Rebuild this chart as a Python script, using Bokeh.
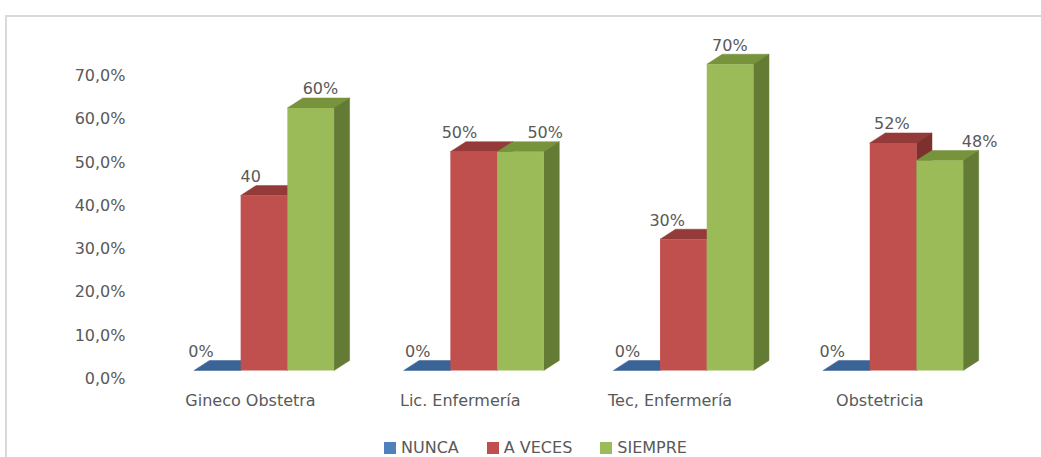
from bokeh.plotting import figure
from bokeh.models import (Range1d, LinearAxis, FixedTicker, ColumnDataSource,
                          Legend, LegendItem)
from bokeh.core.properties import value
from bokeh.embed import file_html
from bokeh.resources import INLINE

# ---------------- data ----------------
categories = ["Gineco Obstetra", "Lic. Enfermería", "Tec, Enfermería", "Obstetricia"]
series_names = ["NUNCA", "A VECES", "SIEMPRE"]
nunca = [0, 0, 0, 0]
a_veces = [40, 50, 30, 52]
siempre = [60, 50, 70, 48]
labels_nunca = ["0%", "0%", "0%", "0%"]
labels_a_veces = ["40", "50%", "30%", "52%"]
labels_siempre = ["60%", "50%", "70%", "48%"]
y_ticks = [0, 10, 20, 30, 40, 50, 60, 70]
y_tick_labels = ["0,0%", "10,0%", "20,0%", "30,0%", "40,0%", "50,0%", "60,0%", "70,0%"]

# ---------------- style ----------------
FONT = "DejaVu Sans"
TXT = "#595959"
front_colors = ["#4F81BD", "#C0504D", "#9BBB59"]
top_colors = ["#3A6496", "#943A38", "#77933C"]
side_colors = ["#34598A", "#7E302E", "#647B35"]
# manual label nudges (px) as placed in the original
nudge_x = [[-24, -17, -17, -22], [-21, -22, -24, -9], [2, 17, -8, 32]]

W = 0.2227      # bar width (category units)
DX = 0.074      # 3D depth, x (category units)
DY = 2.29       # 3D depth, y (percentage points)

# grey chart-area frame line (top and left edges), drawn behind a transparent canvas
LINE = "linear-gradient(#d9d9d9, #d9d9d9)"
frame_css = {"background": f"{LINE} no-repeat 5px 15px / 2px 100%, "
                           f"{LINE} no-repeat 5px 15px / 100% 2px, white"}

p = figure(width=1041, height=457, output_backend="svg", toolbar_location=None,
           x_range=Range1d(-0.6128, 3.679), y_range=Range1d(-19.886, 80.0),
           x_axis_location=None, y_axis_location=None,
           min_border_left=135, min_border_right=6, min_border_top=20, min_border_bottom=0,
           styles=frame_css)
p.outline_line_color = None
p.xgrid.visible = False
p.ygrid.visible = False
p.background_fill_color = None
p.border_fill_color = None

# axis-plane ranges (the axis plane sits in front of the bars)
p.extra_x_ranges = {"xa": Range1d(-0.5481, 3.7417)}
p.extra_y_ranges = {"ya": Range1d(-18.249, 82.70)}

yaxis = LinearAxis(y_range_name="ya", ticker=FixedTicker(ticks=y_ticks),
                   major_label_overrides={t: l for t, l in zip(y_ticks, y_tick_labels)})
yaxis.axis_line_color = None
yaxis.major_tick_line_color = None
yaxis.minor_tick_line_color = None
yaxis.major_tick_out = 0
yaxis.major_tick_in = 0
yaxis.major_label_text_font = FONT
yaxis.major_label_text_font_size = "16px"
yaxis.major_label_text_color = TXT
yaxis.major_label_standoff = 10
p.add_layout(yaxis, "left")

# category labels on the axis plane, just under the 0 line
csrc = ColumnDataSource(dict(x=list(range(len(categories))), y=[0] * len(categories), t=categories))
p.text(x="x", y="y", text="t", source=csrc, x_range_name="xa", y_range_name="ya",
       y_offset=22, text_align="center", text_baseline="middle", text_font=value(FONT),
       text_font_size="16px", text_color=TXT)

all_values = [nunca, a_veces, siempre]
all_labels = [labels_nunca, labels_a_veces, labels_siempre]
items = []
for s, (vals, name) in enumerate(zip(all_values, series_names)):
    xs_c = [i + (s - 1) * W for i in range(len(categories))]
    # top and side faces
    pxs, pys, cols = [], [], []
    for xc, v in zip(xs_c, vals):
        xl, xr = xc - W / 2, xc + W / 2
        pxs.append([xl, xr, xr + DX, xl + DX]); pys.append([v, v, v + DY, v + DY]); cols.append(top_colors[s])
        if v > 0:
            pxs.append([xr, xr + DX, xr + DX, xr]); pys.append([0, DY, v + DY, v]); cols.append(side_colors[s])
    src = ColumnDataSource(dict(xs=pxs, ys=pys, c=cols))
    p.patches("xs", "ys", source=src, fill_color="c", line_color="c", line_width=0.5)
    # front faces
    r = p.vbar(x=xs_c, top=vals, bottom=0, width=W, fill_color=front_colors[s], line_color=None)
    items.append(LegendItem(label=name, renderers=[r]))
    # data labels
    lsrc = ColumnDataSource(dict(x=[xc + DX / 2 for xc in xs_c], y=[v + DY for v in vals],
                                 t=all_labels[s], dx=nudge_x[s]))
    p.text(x="x", y="y", text="t", source=lsrc, x_offset="dx", y_offset=-9,
           text_align="center", text_baseline="middle", text_font=value(FONT),
           text_font_size="16px", text_color=TXT)

legend = Legend(items=items, orientation="horizontal", location=(247, 0),
                border_line_color=None, background_fill_alpha=0, padding=0, margin=0,
                spacing=26, label_standoff=4, glyph_width=15, glyph_height=15,
                label_text_font=FONT, label_text_font_size="16px", label_text_color=TXT)
p.add_layout(legend, "center")

open("out.html", "w").write(file_html(p, INLINE))
